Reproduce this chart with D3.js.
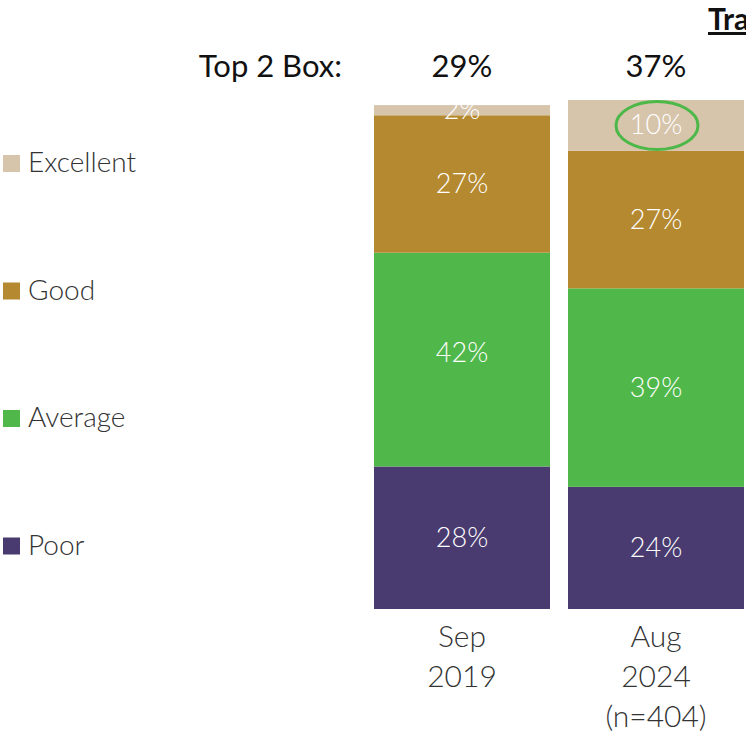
<!DOCTYPE html>
<html>
<head>
    <script src="https://d3js.org/d3.v7.min.js" charset="utf-8"></script>
    <style>
        body { margin: 0; background: #fff; overflow: hidden; }
        svg { display: block; font-family: Lato, "Open Sans", sans-serif; }
    </style>
</head>
<body>
<script>
    // data
    const categories = ["Sep 2019", "Aug 2024"];
    const catLines = [["Sep", "2019"], ["Aug", "2024", "(n=404)"]];
    const ratings = ["Poor", "Average", "Good", "Excellent"];
    const poor = [28, 24];
    const average = [42, 39];
    const good = [27, 27];
    const excellent = [2, 10];
    const top2Box = ["29%", "37%"];
    const colors = ["#493a6f", "#50b84a", "#b5892f", "#d6c4ab"];

    const W = 746, H = 739;
    const svg = d3.select("body").append("svg").attr("width", W).attr("height", H);

    const rows = categories.map((c, i) => ({
        cat: c, Poor: poor[i], Average: average[i], Good: good[i], Excellent: excellent[i]
    }));
    const stacked = d3.stack().keys(ratings)(rows);

    const x = d3.scaleBand().domain(categories).range([365, 753])
        .paddingInner(0.0928).paddingOuter(0.0464);
    const y = d3.scaleLinear().domain([0, 100]).range([609, 100]);
    const color = d3.scaleOrdinal().domain(ratings).range(colors);

    // bars
    const layer = svg.selectAll("g.layer").data(stacked).enter()
        .append("g").attr("class", "layer").attr("fill", d => color(d.key));
    layer.selectAll("rect").data(d => d).enter().append("rect")
        .attr("x", d => x(d.data.cat))
        .attr("y", d => y(d[1]))
        .attr("width", x.bandwidth())
        .attr("height", d => y(d[0]) - y(d[1]));

    // value labels
    layer.selectAll("text").data(d => d).enter().append("text")
        .attr("x", d => x(d.data.cat) + x.bandwidth() / 2)
        .attr("y", d => Math.min((y(d[0]) + y(d[1])) / 2, y(d[1]) + 100) + 9)
        .attr("text-anchor", "middle")
        .attr("fill", "#fff")
        .attr("font-size", 27)
        .attr("font-weight", 300)
        .text(d => (d[1] - d[0]) + "%");

    // highlight ellipse around the latest Excellent value
    const last = stacked[3][1];
    svg.append("ellipse")
        .attr("cx", x(last.data.cat) + x.bandwidth() / 2 + 1)
        .attr("cy", (y(last[0]) + y(last[1])) / 2)
        .attr("rx", 41).attr("ry", 24)
        .attr("fill", "none").attr("stroke", "#4bb848").attr("stroke-width", 3);

    // top 2 box row
    svg.append("text").attr("x", 342).attr("y", 77)
        .attr("text-anchor", "end").attr("font-size", 31).attr("fill", "#111")
        .text("Top 2 Box:");
    svg.selectAll("text.t2b").data(categories).enter().append("text")
        .attr("class", "t2b")
        .attr("x", d => x(d) + x.bandwidth() / 2)
        .attr("y", 77)
        .attr("text-anchor", "middle").attr("font-size", 31).attr("fill", "#111")
        .text((d, i) => top2Box[i]);

    // category labels
    const cl = svg.selectAll("text.cat").data(categories).enter().append("text")
        .attr("class", "cat")
        .attr("text-anchor", "middle").attr("font-size", 30).attr("font-weight", 300)
        .attr("fill", "#333");
    cl.selectAll("tspan").data((d, i) => catLines[i].map(t => ({ t, c: d }))).enter()
        .append("tspan")
        .attr("x", d => x(d.c) + x.bandwidth() / 2)
        .attr("y", (d, j) => 647 + j * 40)
        .text(d => d.t);

    // title (cut off at the right edge, as in the source)
    svg.append("text").attr("x", 708).attr("y", 30)
        .attr("font-size", 30).attr("font-weight", 700).attr("fill", "#111")
        .attr("text-decoration", "underline")
        .text("Tracking");

    // legend
    const legend = svg.selectAll("g.legend").data(ratings.slice().reverse()).enter()
        .append("g").attr("class", "legend")
        .attr("transform", (d, i) => `translate(3, ${155 + i * 127.5})`);
    legend.append("rect").attr("width", 17).attr("height", 17).attr("fill", d => color(d));
    legend.append("text").attr("x", 25).attr("y", 17)
        .attr("font-size", 28).attr("font-weight", 300).attr("fill", "#333")
        .text(d => d);
</script>
</body>
</html>
